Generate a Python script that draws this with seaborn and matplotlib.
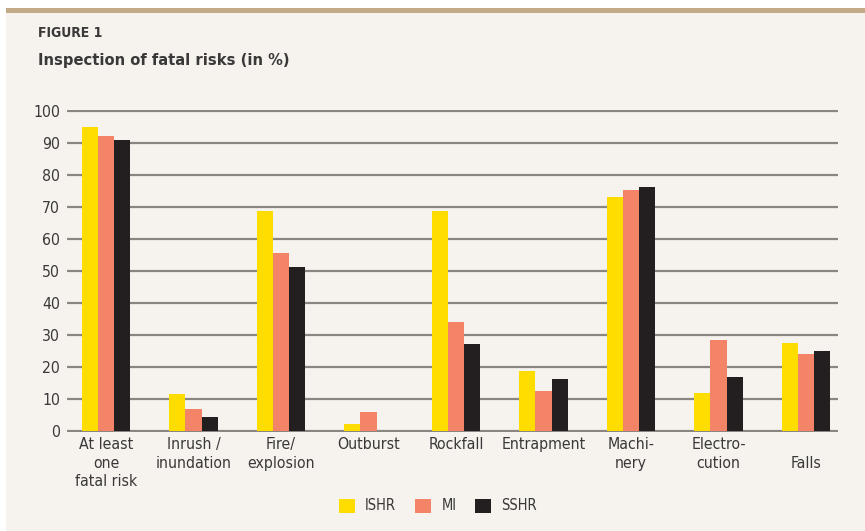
import pandas as pd
import numpy as np
import matplotlib
matplotlib.use('Agg')
import matplotlib.pyplot as plt
import matplotlib.patches as mpatches
import seaborn as sns

categories = ['At least\none\nfatal risk', 'Inrush /\ninundation', 'Fire/\nexplosion',
              'Outburst', 'Rockfall', 'Entrapment', 'Machi-\nnery', 'Electro-\ncution', '\nFalls']
ishr = [95, 11.5, 68.7, 2.2, 68.7, 18.7, 73, 11.8, 27.4]
mi = [92, 6.8, 55.5, 5.9, 34, 12.4, 75.2, 28.4, 24]
sshr = [91, 4.3, 51.2, 0, 27.1, 16.2, 76.1, 16.8, 25]
series = ['ISHR', 'MI', 'SSHR']
colors = ['#FFDD00', '#F48468', '#231F20']

df = pd.DataFrame({'Risk': categories * 3,
                   'Value': ishr + mi + sshr,
                   'Group': np.repeat(series, len(categories))})

bg = '#F6F3EF'
txt = '#3A3838'
sns.set_style('white')
plt.rcParams['font.family'] = ['DejaVu Sans']
plt.rcParams['font.stretch'] = 'condensed'

fig = plt.figure(figsize=(8.65, 5.31), dpi=100, facecolor='white')
# page background and top band
fig.patches.append(mpatches.Rectangle((6/865, 0), 1, (531-13)/531, transform=fig.transFigure,
                                      facecolor=bg, edgecolor='none', zorder=-2))
fig.patches.append(mpatches.Rectangle((6/865, (531-12.7)/531), 1, 5.2/531, transform=fig.transFigure,
                                      facecolor='#C4AB88', edgecolor='none', zorder=-1))

ax = fig.add_axes([67/865, (531-431.5)/531, (838-67)/865, (431.5-110)/531])
ax.set_facecolor(bg)
sns.barplot(data=df, x='Risk', y='Value', hue='Group', palette=colors, width=0.55,
            saturation=1, ax=ax, legend=False, zorder=3)
for p in ax.patches:
    p.set_edgecolor('none')

ax.set_ylim(-0.25, 100.25)
ax.set_xlim(-0.446, 8.366)
ax.set_yticks(range(0, 101, 10))
ax.yaxis.grid(True, color='#8C8682', linewidth=1.6)
ax.set_axisbelow(True)
for s in ax.spines.values():
    s.set_visible(False)
ax.tick_params(axis='both', length=0, labelsize=11.3, labelcolor=txt)
ax.tick_params(axis='y', pad=5)
ax.tick_params(axis='x', pad=4)
for lab in ax.get_xticklabels():
    lab.set_linespacing(1.3)
ax.set_xlabel('')
ax.set_ylabel('')

fig.text(38/865, 1 - 33/531, 'FIGURE 1', fontsize=10, fontweight='bold', color=txt, va='center')
fig.text(38/865, 1 - 60/531, 'Inspection of fatal risks (in %)', fontsize=11.8, fontweight='bold',
         color=txt, va='center')

handles = [mpatches.Patch(facecolor=c, edgecolor='none', label=s) for c, s in zip(colors, series)]
leg = fig.legend(handles=handles, loc='center', bbox_to_anchor=(438/865, 1 - 506/531), ncol=3,
                 frameon=False, fontsize=10.5, handlelength=1.1, handleheight=1.1,
                 columnspacing=1.3, handletextpad=0.7)
for t in leg.get_texts():
    t.set_color(txt)

fig.savefig('out.png', dpi=100, facecolor=fig.get_facecolor())
